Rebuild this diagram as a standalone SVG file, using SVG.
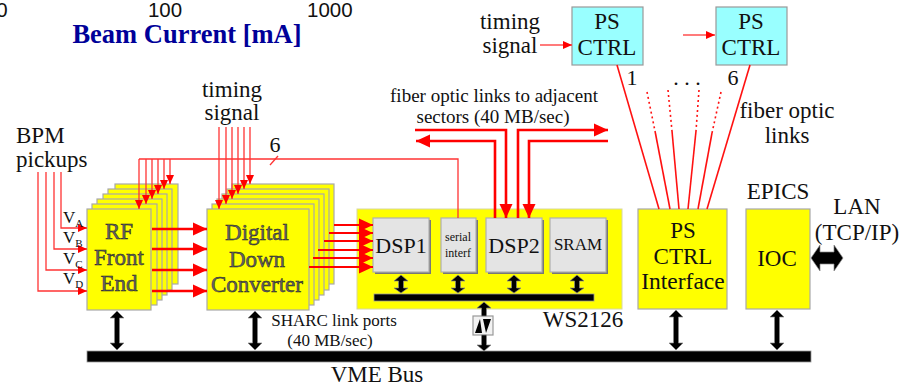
<svg xmlns="http://www.w3.org/2000/svg" width="902" height="386" viewBox="0 0 902 386">
<style>
text{font-family:"Liberation Serif","Times New Roman",serif;fill:#111;text-anchor:middle}
.s22{font-size:22px}.s23{font-size:23px}.s19{font-size:19px}.s17{font-size:17px}
.st{text-anchor:start}
.n{font-family:"Liberation Sans",Arial,sans-serif;font-size:20.500px}
.y{fill:#ff0;stroke:#a8a8a8;stroke-width:1.2}
.g{fill:#e4e4e4;stroke:#b0b0b0;stroke-width:1.2}
.sh{fill:#777}
.c{fill:#9ff;stroke:#999;stroke-width:1.2}
.o{font-size:23px;fill:#666;stroke:#222;stroke-width:.5}
.t{fill:none;stroke:#f33;stroke-width:1.3}
.m{fill:none;stroke:#f11;stroke-width:1.6}
.h{fill:none;stroke:#f00;stroke-width:2}
.th{fill:none;stroke:#f00;stroke-width:2.6}
.d{stroke-dasharray:2 3}
.bar{fill:#000;stroke:#999;stroke-width:.8}
.arr{fill:#000;stroke:#888;stroke-width:.7}
</style>
<defs>
<marker id="a" markerUnits="userSpaceOnUse" markerWidth="10" markerHeight="10" refX="9" refY="5" orient="auto"><path d="M0 1L9 5L0 9Z" fill="#f00"/></marker>
<marker id="b" markerUnits="userSpaceOnUse" markerWidth="15" markerHeight="14" refX="14" refY="7" orient="auto"><path d="M0 0.5L14 7L0 13.5Z" fill="#f00"/></marker>
<clipPath id="top"><rect x="0" y="0" width="353" height="40"/></clipPath>
</defs>
<g id="axis-labels" clip-path="url(#top)">
<text class="n" x="2" y="17">0</text>
<text class="n" x="165" y="17">100</text>
<text class="n st" x="307" y="17">1000</text>
</g>
<text id="axis-title" x="187" y="43" style="font-size:26.500px;font-weight:bold;fill:#009">Beam Current [mA]</text>

<g id="rf-front-end">
<rect class="y" x="115" y="184" width="63" height="100"/>
<rect class="y" x="108" y="189" width="64" height="101"/>
<rect class="y" x="103" y="194" width="64" height="101"/>
<rect class="y" x="97" y="199" width="65" height="101"/>
<rect class="y" x="92" y="204" width="65" height="101"/>
<rect class="y" x="87" y="209" width="64" height="101"/>
<text class="o" x="119" y="239">RF</text>
<text class="o" x="119" y="265">Front</text>
<text class="o" x="119" y="291">End</text>
</g>
<g id="digital-down-converter">
<rect class="y" x="232" y="184" width="102" height="100"/>
<rect class="y" x="227" y="189" width="102" height="101"/>
<rect class="y" x="222" y="194" width="102" height="101"/>
<rect class="y" x="217" y="199" width="102" height="101"/>
<rect class="y" x="212" y="204" width="102" height="101"/>
<rect class="y" x="207" y="209" width="102" height="101"/>
<text class="o" x="257" y="240">Digital</text>
<text class="o" x="257" y="267">Down</text>
<text class="o" x="257" y="292">Converter</text>
</g>
<g id="ws2126">
<rect x="357" y="209" width="265" height="100" fill="#ff0" stroke="#d8d8a0"/>
<text class="s23" x="583" y="327">WS2126</text>
</g>
<g id="dsp1"><rect class="sh" x="375" y="220" width="56" height="54"/><rect class="g" x="373" y="218" width="56" height="54"/><text class="s22" x="401" y="253">DSP1</text></g>
<g id="serial-interf"><rect class="sh" x="443" y="220" width="35" height="54"/><rect class="g" x="441" y="218" width="35" height="54"/><text x="458" y="241" style="font-size:12px">serial</text><text x="458" y="257" style="font-size:12px">interf</text></g>
<g id="dsp2"><rect class="sh" x="488" y="220" width="56" height="54"/><rect class="g" x="486" y="218" width="56" height="54"/><text class="s22" x="514" y="253">DSP2</text></g>
<g id="sram"><rect class="sh" x="552" y="220" width="56" height="54"/><rect class="g" x="550" y="218" width="56" height="54"/><text class="s17" x="578" y="250">SRAM</text></g>
<g id="ps-ctrl-1"><rect class="c" x="572" y="7" width="71" height="58"/><text class="s23" x="607" y="29">PS</text><text class="s23" x="607" y="55">CTRL</text></g>
<g id="ps-ctrl-6"><rect class="c" x="716" y="7" width="71" height="58"/><text class="s23" x="751" y="29">PS</text><text class="s23" x="751" y="55">CTRL</text></g>
<g id="ps-ctrl-interface"><rect class="y" x="638" y="209" width="89" height="100"/><text class="s23" x="683" y="238">PS</text><text class="s23" x="683" y="264">CTRL</text><text class="s23" x="683" y="289" style="font-size:23.500px">Interface</text></g>
<g id="ioc"><rect class="y" x="746" y="209" width="64" height="100"/><text class="s23" x="777" y="266">IOC</text></g>
<g id="vme-bus"><rect class="bar" x="87" y="351" width="724" height="11"/><text class="s23" x="377" y="382">VME Bus</text></g>
<g id="internal-bus"><rect class="bar" x="374" y="294" width="220" height="7"/></g>
<g id="bridge"><rect x="473" y="316" width="20" height="19" fill="#f2f2f2" stroke="#999" stroke-width="1.2"/>
<path d="M475 333L480 319L482 333Z M491 319L486 333L483 319Z" fill="#000"/></g>

<g id="connectors">
<!-- BPM inputs -->
<path class="t" marker-end="url(#a)" d="M61 172V228H87"/>
<path class="t" marker-end="url(#a)" d="M54 172V249H87"/>
<path class="t" marker-end="url(#a)" d="M46 172V270H87"/>
<path class="t" marker-end="url(#a)" d="M38 172V291H87"/>
<!-- serial bus to RF stack -->
<path class="t" d="M139 159H458V218"/>
<path class="t" d="M270 165L278 156"/>
<path class="t" marker-end="url(#a)" d="M139 159V209"/>
<path class="t" marker-end="url(#a)" d="M146 159V204"/>
<path class="t" marker-end="url(#a)" d="M152 159V199"/>
<path class="t" marker-end="url(#a)" d="M158 159V194"/>
<path class="t" marker-end="url(#a)" d="M164 159V189"/>
<path class="t" marker-end="url(#a)" d="M170 159V184"/>
<!-- timing to DDC stack -->
<path class="t" marker-end="url(#a)" d="M219 127V209"/>
<path class="t" marker-end="url(#a)" d="M226 127V204"/>
<path class="t" marker-end="url(#a)" d="M232 127V199"/>
<path class="t" marker-end="url(#a)" d="M238 127V194"/>
<path class="t" marker-end="url(#a)" d="M244 127V189"/>
<path class="t" marker-end="url(#a)" d="M250 127V184"/>
<!-- timing to PS CTRL -->
<path class="t" marker-end="url(#a)" d="M540 45H572"/>
<path class="t" marker-end="url(#a)" d="M683 35H715"/>
<!-- fiber to PS CTRL -->
<path class="m" d="M617 65L659 209"/>
<path class="m" d="M750 65L707 209"/>
<path class="m" d="M655 131L670 209"/><path class="m d" d="M647 92L655 131"/>
<path class="m" d="M672 131L679 209"/><path class="m d" d="M668 90L672 131"/>
<path class="m" d="M696 131L688 209"/><path class="m d" d="M699 90L696 131"/>
<path class="m" d="M712 133L698 209"/><path class="m d" d="M721 92L712 133"/>
<!-- thick RF to DDC -->
<path class="th" marker-end="url(#b)" d="M152 229H207"/>
<path class="th" marker-end="url(#b)" d="M152 249H207"/>
<path class="th" marker-end="url(#b)" d="M152 270H207"/>
<path class="th" marker-end="url(#b)" d="M152 291H207"/>
<!-- DDC to DSP1 -->
<path class="h" marker-end="url(#b)" d="M334 225H373"/>
<path class="h" marker-end="url(#b)" d="M329 233H373"/>
<path class="h" marker-end="url(#b)" d="M324 241H373"/>
<path class="h" marker-end="url(#b)" d="M318 250H373"/>
<path class="h" marker-end="url(#b)" d="M313 258H373"/>
<path class="h" marker-end="url(#b)" d="M309 267H373"/>
<!-- fibre to sectors -->
<path class="th" marker-end="url(#b)" d="M415 130H506V218"/>
<path class="th" marker-end="url(#b)" d="M495 218V141H416"/>
<path class="th" marker-end="url(#b)" d="M518 218V130H608"/>
<path class="th" marker-end="url(#b)" d="M608 141H529V218"/>
<!-- double arrows -->
<g class="arr">
<path d="M117 311L124 318H119.500V343H124L117 350L110 343H114.500V318H110Z"/>
<path d="M255 311L262 318H257.500V343H262L255 350L248 343H252.500V318H248Z"/>
<path d="M676 310L683 317H678.500V343H683L676 350L669 343H673.500V317H669Z"/>
<path d="M777 310L784 317H779.500V343H784L777 350L770 343H774.500V317H770Z"/>
<path d="M401 275L408 281H403.500V288H408L401 293L394 288H398.500V281H394Z"/>
<path d="M458 275L465 281H460.500V288H465L458 293L451 288H455.500V281H451Z"/>
<path d="M514 275L521 281H516.500V288H521L514 293L507 288H511.500V281H507Z"/>
<path d="M577 275L584 281H579.500V288H584L577 293L570 288H574.500V281H570Z"/>
<path d="M484 302L491 308H486.500V316H481.500V308H477Z"/>
<path d="M484 351L491 345H486.500V335H481.500V345H477Z"/>
<path d="M811 258L820 245V252H834V245L843 258L834 271V264H820V271Z"/>
</g>
</g>

<g id="labels">
<text class="s23 st" x="16" y="143">BPM</text>
<text class="s23 st" x="16" y="167">pickups</text>
<text class="s17 st" x="63" y="223">V<tspan font-size="11" dy="4">A</tspan></text>
<text class="s17 st" x="63" y="243">V<tspan font-size="11" dy="4">B</tspan></text>
<text class="s17 st" x="63" y="264">V<tspan font-size="11" dy="4">C</tspan></text>
<text class="s17 st" x="63" y="284">V<tspan font-size="11" dy="4">D</tspan></text>
<text class="s23" x="232" y="97">timing</text>
<text class="s23" x="232" y="120">signal</text>
<text class="s22" x="275" y="152">6</text>
<text class="s19" x="494" y="102">fiber optic links to adjacent</text>
<text class="s19" x="493" y="123">sectors (40 MB/sec)</text>
<text class="s23" x="510" y="29">timing</text>
<text class="s23" x="510" y="53">signal</text>
<text class="s22" x="632" y="85">1</text>
<text class="s22" x="687" y="85">. . .</text>
<text class="s22" x="733" y="85">6</text>
<text class="s23" x="787" y="118">fiber optic</text>
<text class="s23" x="787" y="143">links</text>
<text class="s23" x="778" y="199">EPICS</text>
<text class="s23" x="857" y="214">LAN</text>
<text class="s23" x="857" y="240">(TCP/IP)</text>
<text class="s17" x="334" y="326">SHARC link ports</text>
<text class="s17" x="330" y="346">(40 MB/sec)</text>
</g>
</svg>
